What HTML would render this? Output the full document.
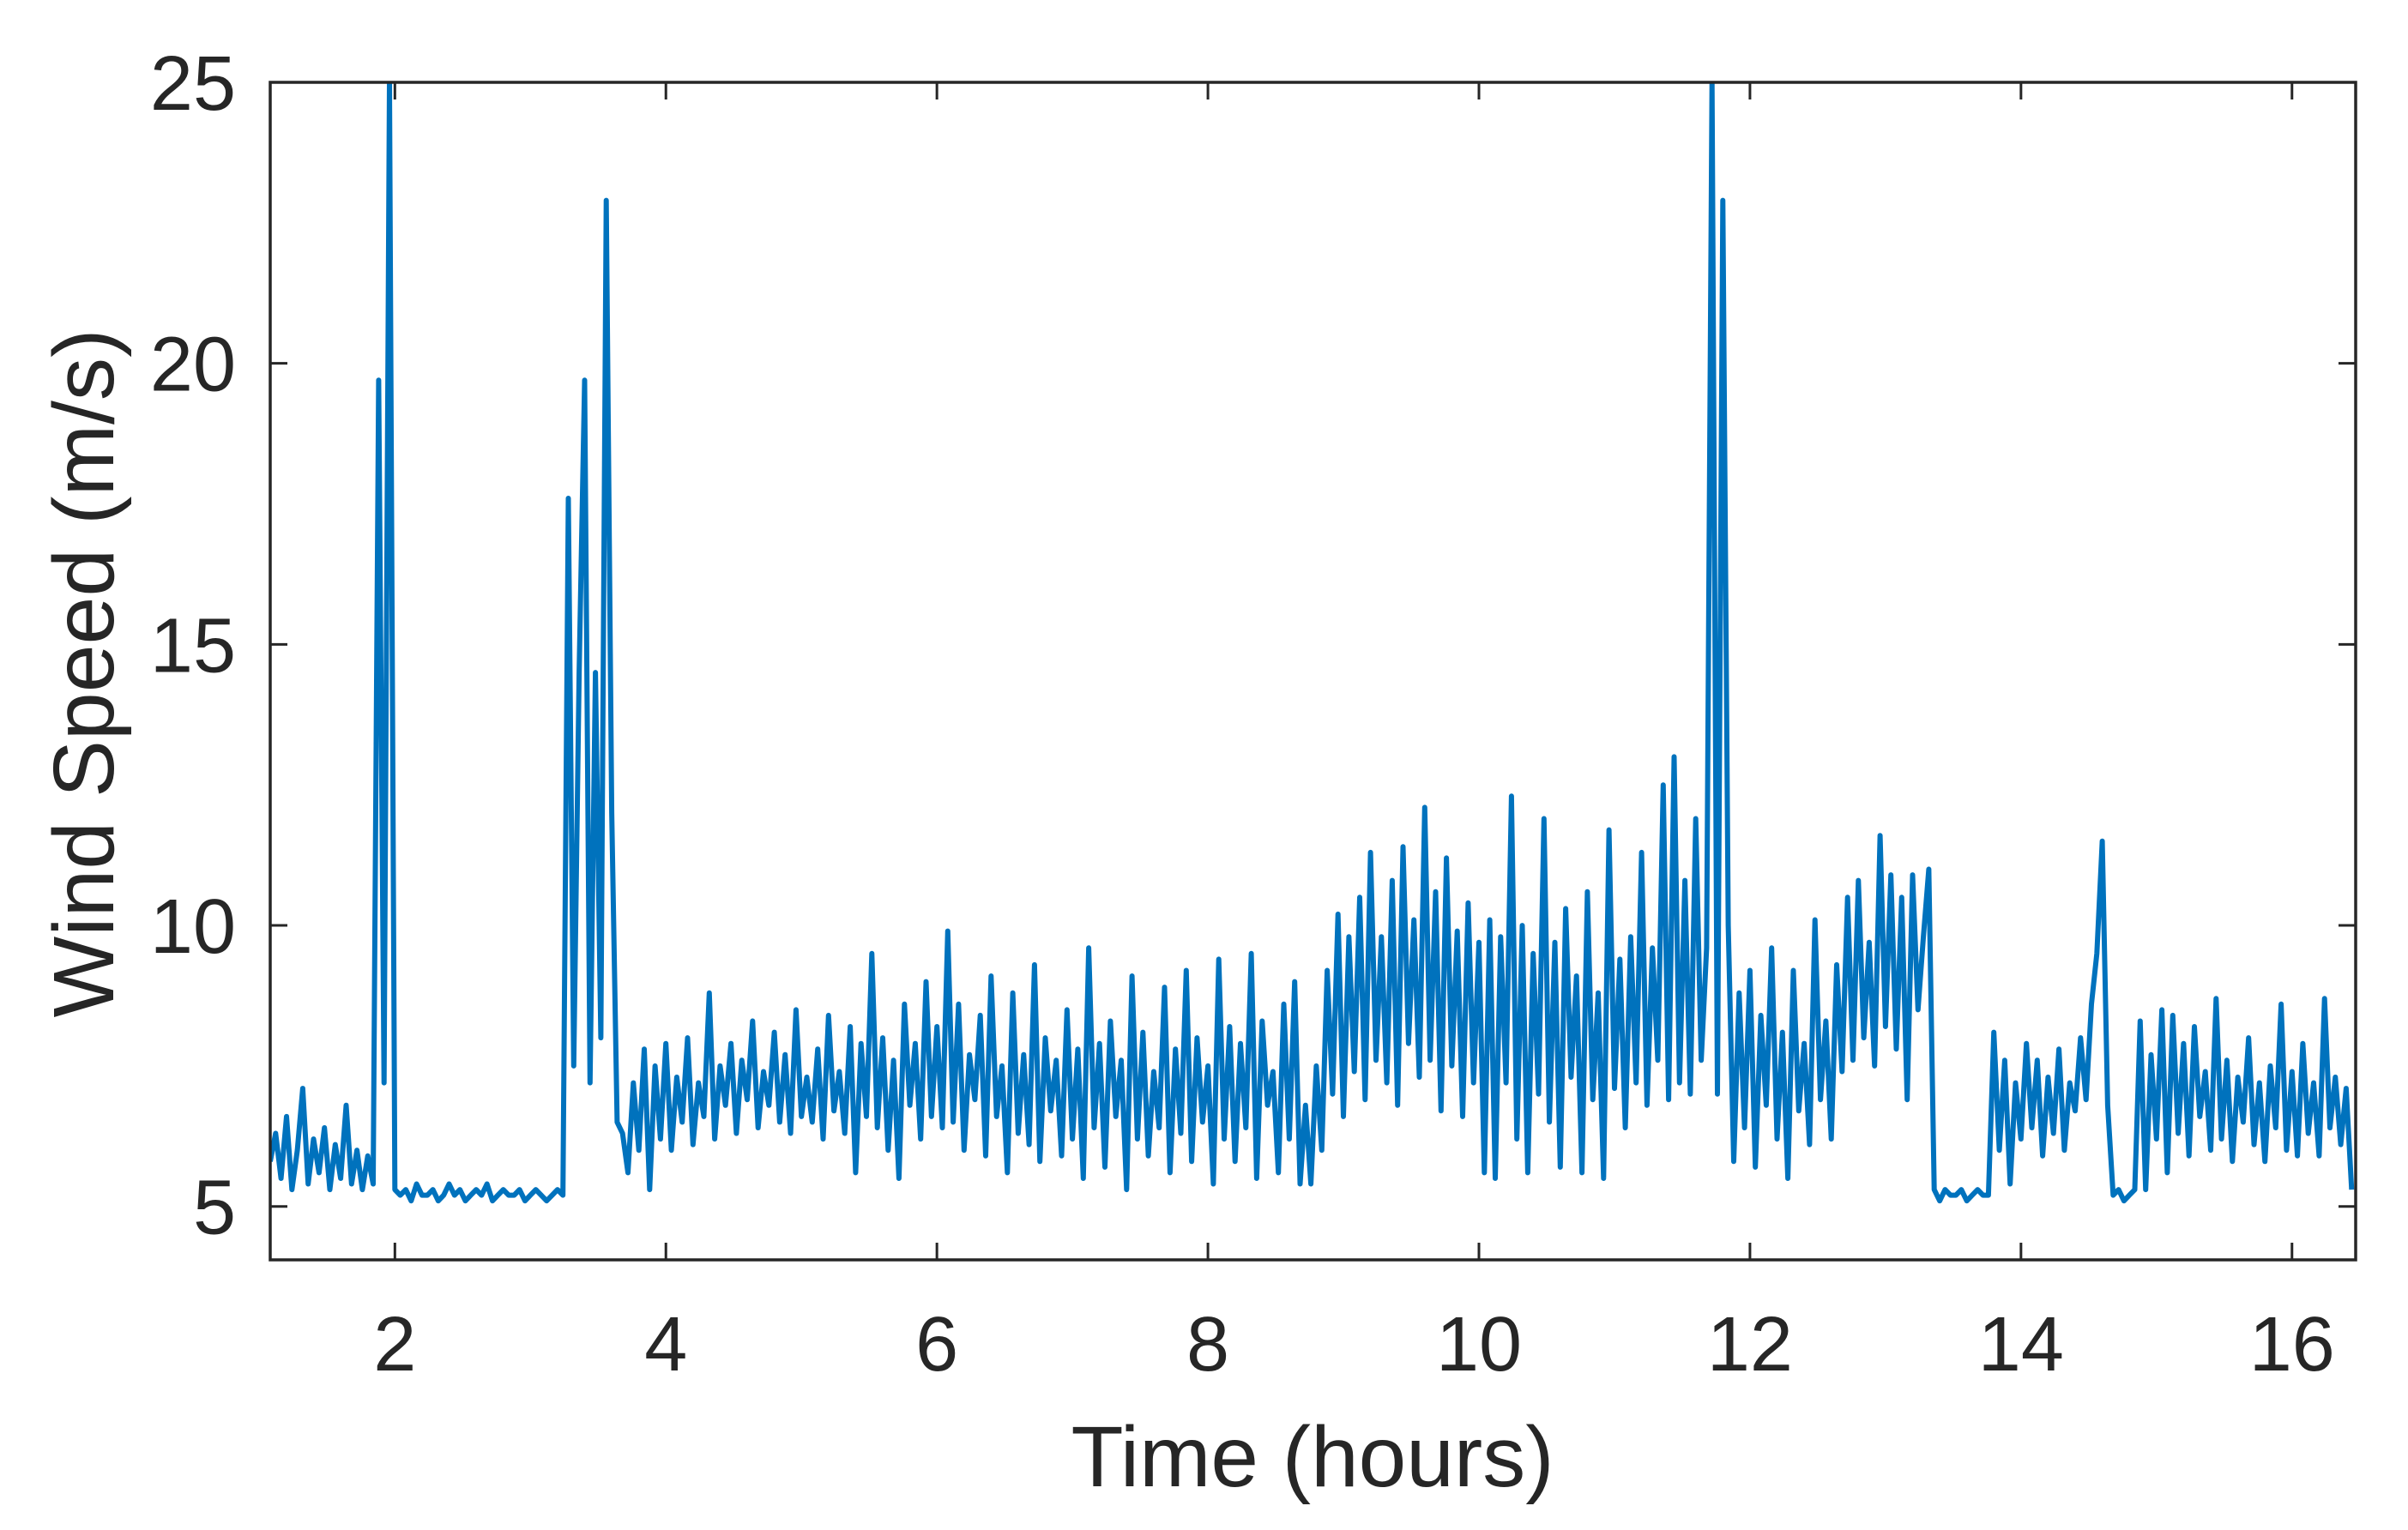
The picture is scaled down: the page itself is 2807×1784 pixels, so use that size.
<!DOCTYPE html>
<html><head><meta charset="utf-8"><style>
html,body{margin:0;padding:0;background:#fff;}
svg{display:block;}
text{font-family:"Liberation Sans",Arial,sans-serif;fill:#262626;}
</style></head><body>
<svg id="chart" width="2807" height="1784" viewBox="0 0 2807 1784" xmlns="http://www.w3.org/2000/svg">
<g id="plot"></g>
<g id="axes"></g>
<text x="1530" y="1733" font-size="100" text-anchor="middle" textLength="563" lengthAdjust="spacingAndGlyphs">Time (hours)</text>
<text transform="translate(132,785) rotate(-90)" font-size="100" text-anchor="middle" textLength="803" lengthAdjust="spacingAndGlyphs">Wind Speed (m/s)</text>
</svg>
<script>
const xTicks = [2,4,6,8,10,12,14,16];
const yTicks = [5,10,15,20,25];
const tStart = 1.08;
const tStep = 0.04;
const windSpeed = [
5.8,6.3,5.5,6.6,5.3,6.0,7.1,5.4,6.2,5.6,6.4,5.3,6.1,5.5,6.8,5.4,6.0,5.3,5.9,5.4,
19.7,7.2,25,5.3,
5.2,5.3,5.1,5.4,5.2,5.2,5.3,5.1,5.2,5.4,5.2,5.3,5.1,5.2,5.3,5.2,5.4,5.1,5.2,5.3,5.2,5.2,5.3,5.1,5.2,5.3,5.2,5.1,5.2,5.3,5.2,
17.6,7.5,14.5,19.7,7.2,14.5,8.0,22.9,12,6.5,
6.3,5.6,7.2,6.0,7.8,5.3,7.5,6.2,7.9,6.0,7.3,6.5,8.0,6.1,7.2,6.6,8.8,6.2,7.5,6.8,7.9,6.3,7.6,6.9,8.3,6.4,7.4,6.8,8.1,6.5,7.7,6.3,8.5,6.6,7.3,
6.5,7.8,6.2,8.4,6.7,7.4,6.3,8.2,5.6,7.9,6.6,9.5,6.4,8.0,6.0,7.6,5.5,8.6,6.8,7.9,6.2,9.0,6.6,8.2,6.4,
9.9,6.5,8.6,6.0,7.7,6.9,8.4,5.9,9.1,6.6,7.5,5.6,8.8,6.3,7.7,6.1,9.3,5.8,8.0,6.7,7.6,5.9,8.5,6.2,7.8,
5.5,9.6,6.4,7.9,5.7,8.3,6.6,7.6,5.3,9.1,6.2,8.1,5.9,7.4,6.4,8.9,5.6,7.8,6.3,9.2,5.8,8.0,6.5,7.5,5.4,
9.4,6.2,8.2,5.8,7.9,6.4,9.5,5.5,8.3,6.8,7.4,5.6,8.6,6.2,9.0,5.4,6.8,5.4,7.5,6.0,9.2,7.0,10.2,6.6,9.8,
7.4,10.5,6.9,11.3,7.6,9.8,7.2,10.8,6.8,11.4,7.9,10.1,7.3,12.1,7.6,10.6,6.7,11.2,7.5,9.9,6.6,10.4,7.2,9.7,5.6,
10.1,5.5,9.8,7.2,12.3,6.2,10.0,5.6,9.5,7.0,11.9,6.5,9.7,5.7,10.3,7.3,9.1,5.6,10.6,6.9,8.8,5.5,11.7,7.1,9.4,
6.4,9.8,7.2,11.3,6.8,9.6,7.6,12.5,6.9,13.0,7.2,10.8,7.0,11.9,7.6,9.6,25,7.0,22.9,10.0,5.8,8.8,6.4,9.2,5.7,
8.4,6.8,9.6,6.2,8.1,5.5,9.2,6.7,7.9,6.1,10.1,6.9,8.3,6.2,9.3,7.4,10.5,7.6,10.8,8.0,9.7,7.5,11.6,8.2,10.9,
7.8,10.5,6.9,10.9,8.5,9.8,11.0,5.3,5.1,5.3,5.2,5.2,5.3,5.1,5.2,5.3,5.2,5.2,8.1,6.0,7.6,5.4,7.2,6.2,7.9,
6.4,7.6,5.9,7.3,6.3,7.8,6.0,7.2,6.7,8.0,6.9,8.6,9.5,11.5,6.8,5.2,5.3,5.1,5.2,5.3,8.3,5.3,7.7,6.2,8.5,
5.6,8.4,6.3,7.9,5.9,8.2,6.6,7.4,6.0,8.7,6.2,7.6,5.8,7.3,6.5,8.0,6.1,7.2,5.8,7.5,6.4,8.6,6.0,7.4,5.9,
7.9,6.3,7.2,5.9,8.7,6.4,7.3,6.1,7.1,5.3
];
const NS='http://www.w3.org/2000/svg';
const L=315,R=2746,T=96,B=1469;
const xMin=1.08,xMax=16.47,yMin=4.05,yMax=25;
function xs(v){return L+(v-xMin)/(xMax-xMin)*(R-L);}
function ys(v){return B-(v-yMin)/(yMax-yMin)*(B-T);}
function mk(tag,attrs,parent){const e=document.createElementNS(NS,tag);for(const k in attrs)e.setAttribute(k,attrs[k]);parent.appendChild(e);return e;}
const plot=document.getElementById('plot');
const axes=document.getElementById('axes');
const cp=mk('clipPath',{id:'clip'},plot);
mk('rect',{x:L,y:T,width:R-L,height:B-T},cp);
let d='';
windSpeed.forEach((v,i)=>{const t=tStart+i*tStep;d+=(i?'L':'M')+xs(t).toFixed(1)+','+ys(v).toFixed(1);});
const line=mk('path',{d:d,fill:'none',stroke:'#0072BD','stroke-width':'6','stroke-linejoin':'round','clip-path':'url(#clip)'},plot);


const box=mk('rect',{x:L,y:T,width:R-L,height:B-T,fill:'none',stroke:'#262626','stroke-width':'3.5'},axes);


xTicks.forEach(v=>{
  const x=xs(v);
  const tk=mk('path',{d:`M${x},${B}V${B-20}M${x},${T}V${T+20}`,stroke:'#262626','stroke-width':'3'},axes);
  
  
  const lb=mk('text',{x:x,y:1598,'font-size':'90','text-anchor':'middle'},axes);
  lb.textContent=v;
  
  
});
yTicks.forEach(v=>{
  const y=ys(v);
  const tk=mk('path',{d:`M${L},${y}H${L+20}M${R},${y}H${R-20}`,stroke:'#262626','stroke-width':'3'},axes);
  
  
  const lb=mk('text',{x:275,y:y+32,'font-size':'90','text-anchor':'end'},axes);
  lb.textContent=v;
  
  
});
</script>
</body></html>
